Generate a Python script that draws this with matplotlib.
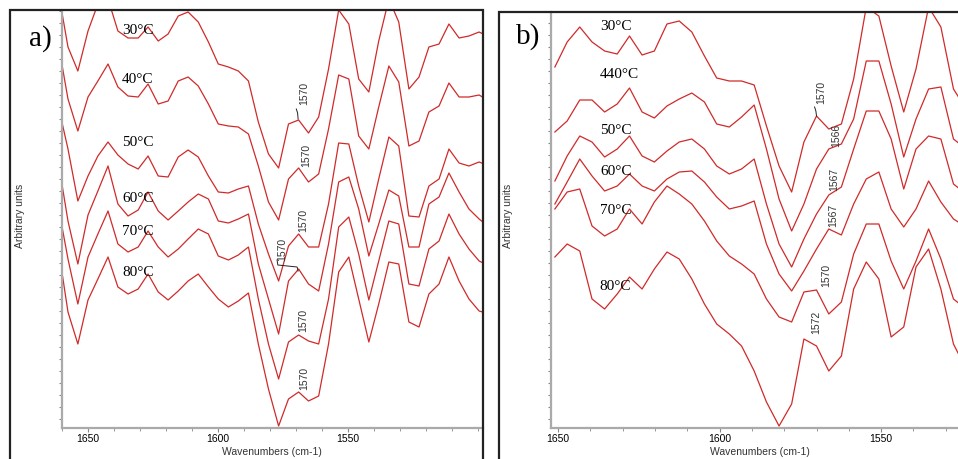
import numpy as np
import matplotlib
matplotlib.use("Agg")
import matplotlib.pyplot as plt
from matplotlib.ticker import MultipleLocator, FixedLocator, NullFormatter
from matplotlib.patches import Rectangle

plt.rcParams['font.family'] = ['Liberation Sans', 'DejaVu Sans']

# --- data -------------------------------------------------------------
# wavenumber grid of the spectra (cm-1)
wn_a = [1661.6, 1657.7, 1653.9, 1650.0, 1646.2, 1642.3, 1638.5, 1634.6, 1630.7, 1626.9,
        1623.0, 1619.2, 1615.3, 1611.5, 1607.6, 1603.7, 1599.9, 1596.0, 1592.2, 1588.3,
        1584.5, 1580.6, 1576.7, 1572.9, 1569.0, 1565.2, 1561.3, 1557.5, 1553.6, 1549.7,
        1545.9, 1542.0, 1538.2, 1534.3, 1530.5, 1526.6, 1522.7, 1518.9, 1515.0, 1511.2,
        1507.3, 1503.5, 1499.6, 1495.7]
wn_b = [1651.0, 1647.2, 1643.3, 1639.5, 1635.6, 1631.7, 1627.9, 1624.0, 1620.2, 1616.3,
        1612.5, 1608.6, 1604.7, 1600.9, 1597.0, 1593.2, 1589.3, 1585.5, 1581.6, 1577.7,
        1573.9, 1570.0, 1566.2, 1562.3, 1558.5, 1554.6, 1550.7, 1546.9, 1543.0, 1539.2,
        1535.3, 1531.5, 1527.6, 1523.7]

# stacked spectra, arbitrary units (axis drawn top-down)
a_30 = [-10, 48, 72, 32, 5, 0, 32, 39, 39, 28, 42, 35, 17, 13, 23, 43, 65, 68, 72, 82,
        123, 155, 169, 125, 121, 134, 118, 70, 11, 25, 80, 93, 42, 0, 23, 90, 78, 48, 45, 25,
        39, 37, 33, 38]
a_40 = [42, 100, 132, 98, 82, 65, 88, 97, 98, 85, 105, 102, 82, 78, 87, 105, 125, 127, 128, 135,
        167, 203, 221, 180, 169, 183, 175, 130, 76, 80, 137, 150, 108, 67, 83, 147, 142, 113, 107, 84,
        98, 98, 96, 102]
a_50 = [105, 150, 202, 177, 157, 143, 156, 165, 170, 157, 177, 178, 158, 151, 158, 177, 193, 194, 190, 187,
        225, 255, 282, 247, 235, 248, 248, 205, 144, 145, 187, 223, 180, 138, 147, 217, 218, 187, 180, 150,
        164, 167, 163, 167]
a_60 = [160, 222, 265, 216, 192, 167, 205, 217, 211, 193, 212, 221, 212, 203, 195, 200, 222, 224, 220, 215,
        265, 300, 335, 282, 270, 285, 292, 245, 183, 178, 210, 257, 225, 191, 197, 248, 248, 205, 198, 174,
        193, 210, 220, 228]
a_70 = [205, 260, 305, 258, 235, 212, 245, 253, 248, 232, 248, 258, 250, 240, 230, 235, 257, 261, 256, 248,
        300, 345, 380, 343, 336, 342, 345, 300, 228, 218, 255, 301, 262, 222, 225, 285, 287, 250, 242, 215,
        235, 250, 262, 267]
a_80 = [246, 313, 345, 301, 280, 258, 288, 295, 290, 275, 293, 301, 292, 282, 275, 288, 300, 308, 302, 294,
        345, 390, 427, 400, 393, 402, 397, 345, 273, 258, 300, 343, 305, 263, 265, 323, 328, 295, 285, 258,
        282, 300, 312, 315]

b_30 = [68, 43, 28, 43, 52, 55, 37, 56, 52, 25, 22, 33, 57, 79, 82, 82, 86, 127, 167, 193,
        143, 117, 130, 125, 80, 8, 17, 67, 113, 70, 8, 28, 90, 110]
b_440 = [133, 122, 101, 101, 113, 105, 89, 113, 119, 107, 100, 94, 103, 125, 128, 118, 106, 150, 200, 232,
         205, 170, 150, 145, 120, 62, 62, 105, 158, 120, 90, 88, 140, 150]
b_50 = [182, 157, 137, 143, 158, 150, 137, 157, 163, 152, 143, 140, 150, 167, 175, 170, 160, 205, 245, 268,
        240, 215, 196, 188, 150, 112, 112, 140, 190, 150, 137, 140, 185, 195]
b_60 = [205, 183, 160, 177, 192, 187, 175, 187, 192, 180, 173, 172, 183, 198, 210, 207, 202, 245, 275, 292,
        272, 250, 230, 236, 205, 180, 173, 210, 228, 210, 182, 203, 220, 228]
b_70 = [210, 193, 190, 227, 237, 230, 210, 225, 203, 187, 195, 205, 222, 242, 257, 265, 275, 300, 318, 323,
        293, 291, 315, 303, 255, 225, 225, 262, 290, 262, 230, 260, 300, 310]
b_80 = [258, 245, 252, 300, 310, 295, 278, 290, 270, 253, 260, 280, 305, 325, 335, 347, 372, 403, 427, 405,
        340, 347, 372, 357, 290, 263, 280, 338, 328, 268, 250, 290, 345, 370]

temps_a = ['30°C', '40°C', '50°C', '60°C', '70°C', '80°C']
temps_b = ['30°C', '440°C', '50°C', '60°C', '70°C', '80°C']
peaks_a = ['1570', '1570', '1570', '1570', '1570', '1570']
peaks_b = ['1570', '1566', '1567', '1567', '1570', '1572']
xticks_main = [1650, 1600, 1550]

# label placement (wavenumber, height)
temp_pos_a = [(1636.9, 30), (1636.9, 79), (1636.9, 142), (1636.9, 198), (1636.9, 231), (1636.9, 272)]
temp_pos_b = [(1637.0, 27), (1637.0, 75), (1637.0, 131), (1637.0, 172), (1637.0, 211), (1637.3, 287)]
peak_pos_a = [(1567.0, 93), (1566.2, 155), (1567.3, 220), (1575.4, 249), (1567.3, 320), (1567.0, 378)]
peak_pos_b = [(1568.6, 92), (1563.9, 135), (1564.6, 179), (1564.9, 215), (1567.0, 275), (1570.1, 322)]

red = '#d02a2a'


def draw_panel(ax, wn, curves, temps, temp_pos, peaks, peak_pos, xlim, ylim):
    for y in curves:
        ax.plot(wn, y, color=red, lw=0.9)
    for t, (x, y) in zip(temps, temp_pos):
        ax.text(x, y, t, family='Liberation Serif', fontsize=11, color='black',
                ha='left', va='center')
    for p, (x, y) in zip(peaks, peak_pos):
        ax.text(x, y, p, fontsize=7.5, rotation=90, color='#333333', ha='center', va='center')
    ax.set_xlim(*xlim)
    ax.set_ylim(*ylim)
    ax.xaxis.set_major_locator(FixedLocator(xticks_main))
    ax.xaxis.set_minor_locator(MultipleLocator(10))
    ax.yaxis.set_major_locator(MultipleLocator(12))
    ax.yaxis.set_major_formatter(NullFormatter())
    ax.tick_params(axis='x', which='major', length=3, color='#888888', labelsize=7.5, pad=0.5)
    ax.tick_params(axis='x', which='minor', length=2, color='#888888')
    ax.tick_params(axis='y', length=2, color='#888888')
    for s in ['top', 'right']:
        ax.spines[s].set_visible(False)
    for s in ['left', 'bottom']:
        ax.spines[s].set_color('#aaaaaa')
        ax.spines[s].set_linewidth(1.6)


W, H = 958, 460
fig = plt.figure(figsize=(W / 100, H / 100), dpi=100)

ax1 = fig.add_axes([62 / W, 31 / H, 421 / W, 417 / H])
draw_panel(ax1, wn_a, [a_30, a_40, a_50, a_60, a_70, a_80], temps_a, temp_pos_a,
           peaks_a, peak_pos_a, (1660, 1498.1), (429, 12))
# leaders to the peaks
ax1.plot([1569.9, 1569.4, 1569.2], [110, 114, 120], color='#222222', lw=0.7)
ax1.plot([1577.3, 1577.0, 1569.6, 1569.2], [261, 266, 268, 272], color='#222222', lw=0.7)

ax2 = fig.add_axes([551 / W, 31 / H, 407 / W, 416 / H])
draw_panel(ax2, wn_b, [b_30, b_440, b_50, b_60, b_70, b_80], temps_b, temp_pos_b,
           peaks_b, peak_pos_b, (1652.2, 1526.2), (429, 13))
ax2.plot([1570.6, 1570.2, 1570.0], [108, 112, 117], color='#222222', lw=0.7)

# panel frames
fig.add_artist(Rectangle((10 / W, -0.05), 473 / W, (H - 11) / H + 0.05, transform=fig.transFigure,
                         fill=False, edgecolor='#222222', lw=1.6, clip_on=False))
fig.add_artist(Rectangle((499 / W, -0.05), 0.6, (H - 13) / H + 0.05, transform=fig.transFigure,
                         fill=False, edgecolor='#222222', lw=1.6, clip_on=False))

fig.text(40 / W, 1 - 39 / H, 'a)', family='Liberation Serif', fontsize=21, ha='center', va='center')
fig.text(528 / W, 1 - 37 / H, 'b)', family='Liberation Serif', fontsize=21, ha='center', va='center')

fig.text(20 / W, 1 - 216 / H, 'Arbitrary units', fontsize=7.5, rotation=90, ha='center', va='center',
         color='#333333')
fig.text(508 / W, 1 - 216 / H, 'Arbitrary units', fontsize=7.5, rotation=90, ha='center', va='center',
         color='#333333')
fig.text(272 / W, 1 - 452 / H, 'Wavenumbers (cm-1)', fontsize=7.5, ha='center', va='center',
         color='#333333')
fig.text(760 / W, 1 - 452 / H, 'Wavenumbers (cm-1)', fontsize=7.5, ha='center', va='center',
         color='#333333')

fig.savefig('out.png', dpi=100)
